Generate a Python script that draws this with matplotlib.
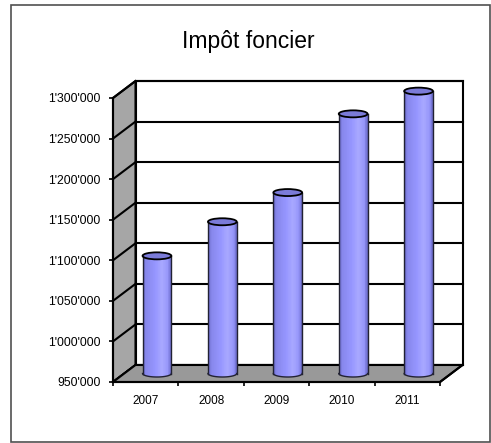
import numpy as np
import matplotlib
matplotlib.use("Agg")
import matplotlib.pyplot as plt
from matplotlib.patches import Polygon, Ellipse, Rectangle
from matplotlib.ticker import FuncFormatter

plt.rcParams['font.family'] = ['Liberation Sans', 'DejaVu Sans']

# data
years = ['2007', '2008', '2009', '2010', '2011']
impot = [1095000, 1137000, 1173000, 1270000, 1298000]
yticks = [950000, 1000000, 1050000, 1100000, 1150000, 1200000, 1250000, 1300000]
ymin, ymax = 950000, 1300000

W, H = 491, 443
fig = plt.figure(figsize=(W / 100, H / 100), dpi=100)
fig.patch.set_facecolor('white')

# outer frame
fig.patches.append(Rectangle((11 / W, 1 - 441.5 / H), 479 / W, 437 / H,
                             transform=fig.transFigure, fill=False,
                             edgecolor='#505050', lw=1.2))

# front plane of the 3d box
ax = fig.add_axes([113 / W, 1 - 382 / H, 327 / W, 284 / H])
n = len(years)
ax.set_xlim(-0.5, n - 0.5)
ax.set_ylim(ymin, ymax)
ax.set_facecolor('none')

# depth offset (pixels -> data units)
px_x = 327 / n
px_y = 284 / (ymax - ymin)
dx = 22.5 / px_x
dy = 17 / px_y

x0, x1 = -0.5, n - 0.5

# back wall
ax.add_patch(Rectangle((x0 + dx, ymin + dy), n, ymax - ymin, facecolor='white',
                       edgecolor='black', lw=1.5, clip_on=False, zorder=1))
for v in yticks:
    ax.plot([x0 + dx, x1 + dx], [v + dy, v + dy], color='black', lw=1.5,
            clip_on=False, zorder=1.2)

# left wall
ax.add_patch(Polygon([(x0, ymin), (x0, ymax), (x0 + dx, ymax + dy), (x0 + dx, ymin + dy)],
                     closed=True, facecolor='#a6a6a6', edgecolor='black', lw=1.5,
                     clip_on=False, zorder=1.5))
for v in yticks:
    ax.plot([x0, x0 + dx], [v, v + dy], color='black', lw=1.5, clip_on=False, zorder=1.6)

# floor
ax.add_patch(Polygon([(x0, ymin), (x1, ymin), (x1 + dx, ymin + dy), (x0 + dx, ymin + dy)],
                     closed=True, facecolor='#999999', edgecolor='black', lw=1.5,
                     clip_on=False, zorder=1.7))

# cylinders
cw = 0.44
eh = 7 / px_y
nstrip = 40
shade_t = [0.0, 0.12, 0.45, 0.68, 0.88, 1.0]
shade_r = [100, 135, 150, 168, 150, 105]
shade_g = [100, 135, 150, 168, 150, 105]
shade_b = [195, 235, 255, 255, 250, 200]
for i, v in enumerate(impot):
    cx = i + dx / 2
    base = ymin + dy / 2
    top = v + dy / 2
    t = (np.arange(nstrip) + 0.5) / nstrip
    xs = cx - cw / 2 + t * cw
    bottoms = base - eh / 2 * np.sqrt(1 - (2 * t - 1) ** 2)
    cols = np.stack([np.interp(t, shade_t, shade_r),
                     np.interp(t, shade_t, shade_g),
                     np.interp(t, shade_t, shade_b)], axis=1) / 255
    ax.bar(xs, top - bottoms, bottom=bottoms, width=cw / nstrip * 1.15,
           color=cols, lw=0, clip_on=False, zorder=3)
    # outline
    arc_t = np.linspace(0, np.pi, 60)
    ax.plot(cx - cw / 2 * np.cos(arc_t), base - eh / 2 * np.sin(arc_t),
            color='#222233', lw=1.0, clip_on=False, zorder=3.5)
    ax.plot([cx - cw / 2, cx - cw / 2], [base, top], color='#222233', lw=1.0,
            clip_on=False, zorder=3.5)
    ax.plot([cx + cw / 2, cx + cw / 2], [base, top], color='#222233', lw=1.0,
            clip_on=False, zorder=3.5)
    ax.add_patch(Ellipse((cx, top), cw, eh, facecolor='#7b7bd9', edgecolor='black',
                         lw=1.3, clip_on=False, zorder=4))

# front edges
ax.plot([x1, x1 + dx], [ymin, ymin + dy], color='black', lw=1.5, clip_on=False, zorder=2)
for s in ['top', 'right']:
    ax.spines[s].set_visible(False)
for s in ['left', 'bottom']:
    ax.spines[s].set_linewidth(1.5)
    ax.spines[s].set_zorder(5)

ax.set_yticks(yticks)
ax.yaxis.set_major_formatter(FuncFormatter(lambda v, p: f"{v:,.0f}".replace(",", "'")))
ax.tick_params(axis='y', direction='out', length=3, width=1.2, pad=6,
               labelsize=8.8, colors='black')
ax.set_xticks(range(n))
ax.set_xticklabels(years)
ax.set_xticks(np.arange(n + 1) - 0.5, minor=True)
ax.tick_params(axis='x', which='major', length=0, pad=9, labelsize=8.5)
ax.tick_params(axis='x', which='minor', direction='out', length=3, width=1.2)

fig.text(248.5 / W, 1 - 48 / H, 'Impôt foncier', ha='center', va='baseline',
         fontsize=16.5)

fig.savefig('out.png', dpi=100)
